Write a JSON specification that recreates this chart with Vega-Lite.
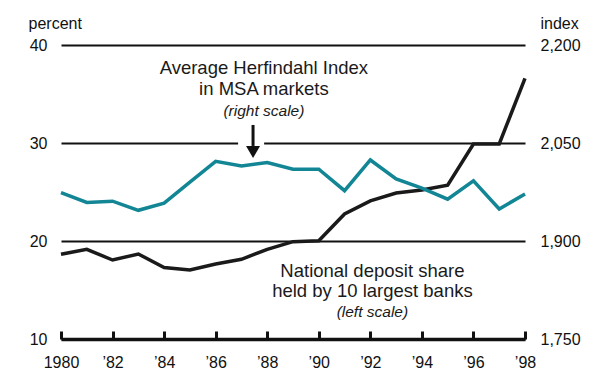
{
  "$schema": "https://vega.github.io/schema/vega-lite/v6.json",
  "width": 464,
  "height": 294,
  "autosize": "none",
  "padding": {"left": 61, "top": 45, "right": 76, "bottom": 43},
  "background": "white",
  "config": {
    "font": "Liberation Sans",
    "view": {"stroke": null},
    "axis": {"labelColor": "#111", "titleColor": "#111", "labelFont": "Liberation Sans", "titleFont": "Liberation Sans"}
  },
  "datasets": {
    "series": [
      {"year": 1980, "share": 18.64, "hhi": 1974},
      {"year": 1981, "share": 19.15, "hhi": 1959},
      {"year": 1982, "share": 18.06, "hhi": 1961},
      {"year": 1983, "share": 18.67, "hhi": 1947},
      {"year": 1984, "share": 17.3, "hhi": 1958},
      {"year": 1985, "share": 17.04, "hhi": 1990},
      {"year": 1986, "share": 17.65, "hhi": 2022},
      {"year": 1987, "share": 18.13, "hhi": 2015},
      {"year": 1988, "share": 19.15, "hhi": 2020},
      {"year": 1989, "share": 19.93, "hhi": 2010},
      {"year": 1990, "share": 20.03, "hhi": 2010},
      {"year": 1991, "share": 22.76, "hhi": 1977},
      {"year": 1992, "share": 24.1, "hhi": 2024},
      {"year": 1993, "share": 24.9, "hhi": 1995},
      {"year": 1994, "share": 25.2, "hhi": 1981},
      {"year": 1995, "share": 25.7, "hhi": 1964},
      {"year": 1996, "share": 29.9, "hhi": 1992},
      {"year": 1997, "share": 29.9, "hhi": 1949},
      {"year": 1998, "share": 36.6, "hhi": 1972}
    ],
    "labels": [
      {"year": 1987.87, "pct": 37.04, "text": "Average Herfindahl Index"},
      {"year": 1987.87, "pct": 34.9, "text": "in MSA markets"},
      {"year": 1992.08, "pct": 16.36, "text": "National deposit share"},
      {"year": 1992.08, "pct": 14.32, "text": "held by 10 largest banks"}
    ],
    "notes": [
      {"year": 1987.87, "pct": 32.75, "text": "(right scale)"},
      {"year": 1992.08, "pct": 12.2, "text": "(left scale)"}
    ],
    "gap": [{"x1": 1986.87, "x2": 1987.88, "pct": 30}],
    "arrow": [{"year": 1987.45, "top": 31.84, "bottom": 29.7, "head": 29.08}]
  },
  "resolve": {"scale": {"y": "independent"}},
  "layer": [
    {
      "layer": [
        {
          "data": {"name": "series"},
          "mark": {"type": "line", "color": "#1a1a1a", "strokeWidth": 3.5, "strokeJoin": "miter"},
          "encoding": {
            "x": {
              "field": "year", "type": "quantitative",
              "scale": {"domain": [1980, 1998], "nice": false, "zero": false},
              "axis": {
                "orient": "bottom", "title": null, "grid": false,
                "values": [1980,1981,1982,1983,1984,1985,1986,1987,1988,1989,1990,1991,1992,1993,1994,1995,1996,1997,1998],
                "labelExpr": "datum.value == 1980 ? '1980' : (datum.value % 2 == 0 ? '’' + substring(toString(datum.value), 2) : '')",
                "domain": true, "domainColor": "#111", "domainWidth": 3.5,
                "ticks": true, "tickColor": "#111", "tickWidth": 3, "tickSize": -8,
                "labelFontSize": 16, "labelPadding": 23, "labelFlush": false
              }
            },
            "y": {
              "field": "share", "type": "quantitative",
              "scale": {"domain": [10, 40], "nice": false, "zero": false},
              "axis": {
                "orient": "left", "values": [10, 20, 30, 40],
                "domain": false, "ticks": false,
                "grid": true, "gridColor": "#111", "gridWidth": 2.2, "gridOpacity": 1,
                "labelFontSize": 16, "labelPadding": 14,
                "title": "percent", "titleAngle": 0, "titleAlign": "left", "titleBaseline": "alphabetic",
                "titleX": -33, "titleY": -17, "titleFontSize": 16, "titleFontWeight": "normal"
              }
            }
          }
        },
        {
          "data": {"name": "gap"},
          "mark": {"type": "rule", "color": "white", "strokeWidth": 6},
          "encoding": {
            "x": {"field": "x1", "type": "quantitative"},
            "x2": {"field": "x2"},
            "y": {"field": "pct", "type": "quantitative"}
          }
        },
        {
          "data": {"name": "arrow"},
          "mark": {"type": "rule", "color": "#111", "strokeWidth": 3},
          "encoding": {
            "x": {"field": "year", "type": "quantitative"},
            "y": {"field": "top", "type": "quantitative"},
            "y2": {"field": "bottom"}
          }
        },
        {
          "data": {"name": "arrow"},
          "mark": {"type": "point", "shape": "triangle-down", "filled": true, "color": "#111", "size": 196, "opacity": 1},
          "encoding": {
            "x": {"field": "year", "type": "quantitative"},
            "y": {"field": "head", "type": "quantitative"}
          }
        },
        {
          "data": {"name": "labels"},
          "mark": {"type": "text", "fontSize": 18.5, "align": "center", "baseline": "alphabetic", "color": "#1a1a1a"},
          "encoding": {
            "x": {"field": "year", "type": "quantitative"},
            "y": {"field": "pct", "type": "quantitative"},
            "text": {"field": "text"}
          }
        },
        {
          "data": {"name": "notes"},
          "mark": {"type": "text", "fontSize": 15.5, "fontStyle": "italic", "align": "center", "baseline": "alphabetic", "color": "#1a1a1a"},
          "encoding": {
            "x": {"field": "year", "type": "quantitative"},
            "y": {"field": "pct", "type": "quantitative"},
            "text": {"field": "text"}
          }
        }
      ]
    },
    {
      "data": {"name": "series"},
      "mark": {"type": "line", "color": "#138695", "strokeWidth": 3.5, "strokeJoin": "miter"},
      "encoding": {
        "x": {"field": "year", "type": "quantitative"},
        "y": {
          "field": "hhi", "type": "quantitative",
          "scale": {"domain": [1750, 2200], "nice": false, "zero": false},
          "axis": {
            "orient": "right", "values": [1750, 1900, 2050, 2200],
            "labelExpr": "format(datum.value, ',.0f')",
            "domain": false, "ticks": false, "grid": false,
            "labelFontSize": 16, "labelPadding": 15,
            "title": "index", "titleAngle": 0, "titleAlign": "left", "titleBaseline": "alphabetic",
            "titleX": 15, "titleY": -17, "titleFontSize": 16, "titleFontWeight": "normal"
          }
        }
      }
    }
  ]
}
